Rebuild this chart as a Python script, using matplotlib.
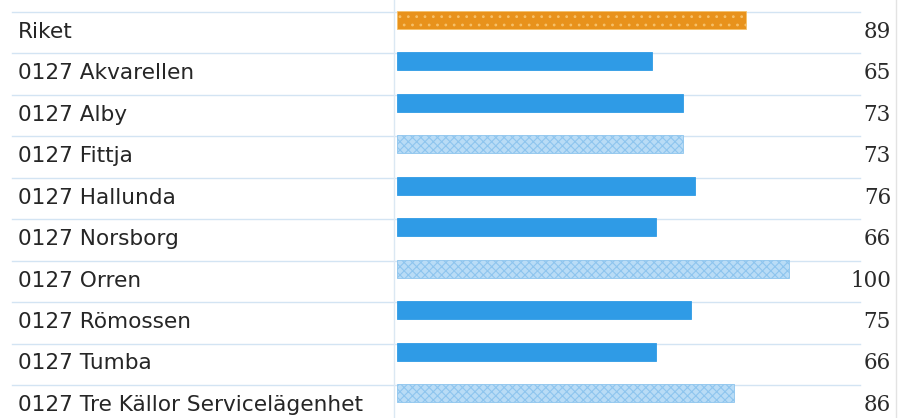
import numpy as np
import matplotlib
matplotlib.use("Agg")
import matplotlib.pyplot as plt

plt.rcParams['hatch.linewidth'] = 0.8

labels = ["Riket", "0127 Akvarellen", "0127 Alby", "0127 Fittja", "0127 Hallunda",
          "0127 Norsborg", "0127 Orren", "0127 Römossen", "0127 Tumba",
          "0127 Tre Källor Servicelägenhet"]
values = [89, 65, 73, 73, 76, 66, 100, 75, 66, 86]
kinds = ["riket", "solid", "solid", "light", "solid", "solid", "light", "solid", "solid", "light"]

styles = {
    "riket": dict(color="#e8921c", hatch="..", edge="#f6c16a"),
    "solid": dict(color="#2f9be6", hatch="", edge="#2f9be6"),
    "light": dict(color="#b9dcf6", hatch="xxxx", edge="#8ec5ee"),
}

W, H = 910, 418
x0_px, px_per_unit = 397, 3.92
row0_px, row_px = 31, 41.45

fig = plt.figure(figsize=(W / 100, H / 100), dpi=100)
ax = fig.add_axes([0, 0, 1, 1])
ax.set_xlim(-x0_px / px_per_unit, (W - x0_px) / px_per_unit)
ax.set_ylim((H - row0_px) / row_px, -row0_px / row_px)
ax.axis("off")

y = np.arange(len(labels))
bar_off = 11 / row_px
bar_h = 18 / row_px

for i, (lab, v, k) in enumerate(zip(labels, values, kinds)):
    st = styles[k]
    ax.barh(y[i] - bar_off, v, height=bar_h, left=0, color=st["color"],
            edgecolor=st["edge"], hatch=st["hatch"], linewidth=0.6, zorder=3)
    # row separator
    ax.plot([(12 - x0_px) / px_per_unit, (860 - x0_px) / px_per_unit],
            [y[i] - 19 / row_px] * 2, color="#d3e4f3", lw=1.0, zorder=1)
    ax.text((18 - x0_px) / px_per_unit, y[i] + 0.02, lab, ha="left", va="center",
            fontsize=15.6, color="#262626", family="DejaVu Sans")
    ax.text((891 - x0_px) / px_per_unit, y[i] + 0.02, str(v), ha="right", va="center",
            fontsize=15.5, color="#2a2a2a", family="DejaVu Serif")

# vertical guide lines
ax.axvline((394 - x0_px) / px_per_unit, color="#dbe8f3", lw=1.0, zorder=1)
ax.axvline((896 - x0_px) / px_per_unit, color="#e3e3e3", lw=1.0, zorder=1)

fig.savefig("out.png", dpi=100, facecolor="white")
